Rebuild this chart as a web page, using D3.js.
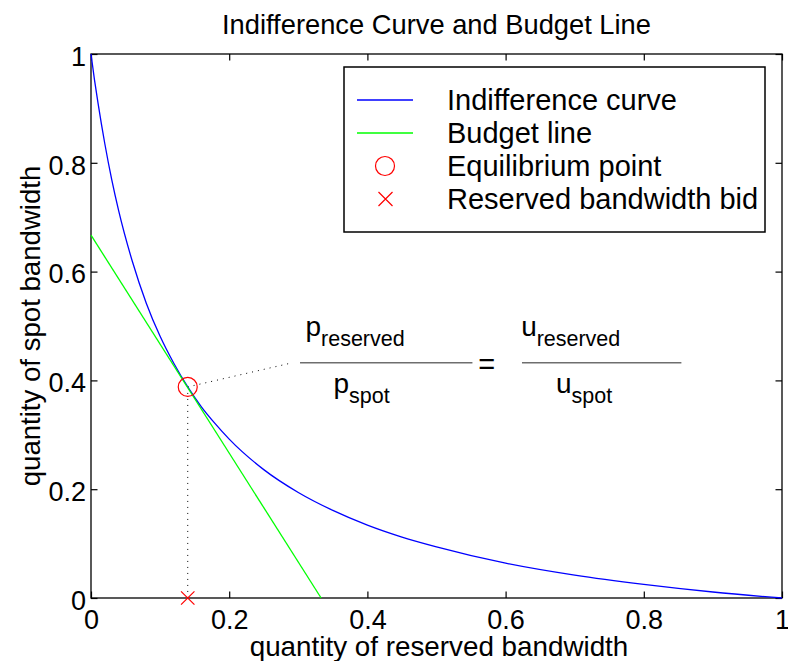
<!DOCTYPE html>
<html>
<head>
<meta charset="utf-8">
<script src="https://cdn.jsdelivr.net/npm/d3@7"></script>
<style>
  html, body { margin: 0; padding: 0; background: #fff; }
  svg { display: block; }
  text { font-family: "Liberation Sans", Arial, Helvetica, sans-serif; fill: #000; }
</style>
</head>
<body>
<svg id="chart" width="788" height="661"></svg>
<script>
// Indifference curve: quantity of reserved bandwidth vs. quantity of spot bandwidth
const reservedQty = [0, 0.005, 0.01, 0.02, 0.03, 0.04, 0.06, 0.08, 0.10, 0.12, 0.14, 0.16, 0.18, 0.20,
                     0.25, 0.30, 0.35, 0.40, 0.45, 0.50, 0.60, 0.70, 0.80, 0.90, 1.00];
const spotQty     = [1.00, 0.953, 0.911, 0.835, 0.769, 0.712, 0.618, 0.542, 0.481, 0.431, 0.388, 0.351, 0.320, 0.292,
                     0.236, 0.194, 0.161, 0.134, 0.112, 0.094, 0.064, 0.042, 0.025, 0.011, 0.000];

// Budget line end points
const budgetX = [0, 0.333];
const budgetY = [0.667, 0];

// Tangency point and the resulting reserved bandwidth bid
const equilibrium = [0.14, 0.388];
const bid = [0.14, 0];

// Axis ticks
const xTicks = [0, 0.2, 0.4, 0.6, 0.8, 1];
const yTicks = [0, 0.2, 0.4, 0.6, 0.8, 1];
const tickLabels = ["0", "0.2", "0.4", "0.6", "0.8", "1"];

const legendLabels = ["Indifference curve", "Budget line", "Equilibrium point", "Reserved bandwidth bid"];

const svg = d3.select("#chart");
const W = 788, H = 661;
const m = { left: 91, right: 782, top: 54, bottom: 598 };

svg.append("rect").attr("width", W).attr("height", H).attr("fill", "#fff");

const x = d3.scaleLinear().domain([0, 1]).range([m.left, m.right]);
const y = d3.scaleLinear().domain([0, 1]).range([m.bottom, m.top]);

const FS = 27;
const tickLen = 6.5;
const fmt = (d) => tickLabels[xTicks.indexOf(d)];

// Axes: inward ticks on every side of the box
const gB = svg.append("g").attr("transform", `translate(0,${m.bottom})`)
  .call(d3.axisBottom(x).tickValues(xTicks).tickSize(-tickLen).tickPadding(11.5).tickFormat(fmt));
const gL = svg.append("g").attr("transform", `translate(${m.left},0)`)
  .call(d3.axisLeft(y).tickValues(yTicks).tickSize(-tickLen).tickPadding(5).tickFormat((d) => tickLabels[yTicks.indexOf(d)]));
const gT = svg.append("g").attr("transform", `translate(0,${m.top})`)
  .call(d3.axisTop(x).tickValues(xTicks).tickSize(-tickLen).tickFormat(""));
const gR = svg.append("g").attr("transform", `translate(${m.right},0)`)
  .call(d3.axisRight(y).tickValues(yTicks).tickSize(-tickLen).tickFormat(""));

[gB, gL, gT, gR].forEach((g) => {
  g.select(".domain").remove();
  g.selectAll(".tick line").attr("stroke", "#000").attr("stroke-width", 1.2);
  g.selectAll("text").attr("font-size", FS).attr("fill", "#000")
    .style("font-family", '"Liberation Sans", Arial, sans-serif');
});
gL.selectAll("text").attr("dy", "0.42em");

// Plot box
svg.append("rect")
  .attr("x", m.left).attr("y", m.top)
  .attr("width", m.right - m.left).attr("height", m.bottom - m.top)
  .attr("fill", "none").attr("stroke", "#000").attr("stroke-width", 1.3);

// Dotted guide lines from the equilibrium point
svg.append("line")
  .attr("x1", x(equilibrium[0])).attr("y1", y(equilibrium[1]))
  .attr("x2", x(bid[0])).attr("y2", y(bid[1]))
  .attr("stroke", "#000").attr("stroke-width", 1).attr("stroke-dasharray", "1,5");
svg.append("line")
  .attr("x1", x(equilibrium[0])).attr("y1", y(equilibrium[1]))
  .attr("x2", x(0.29)).attr("y2", y(0.432))
  .attr("stroke", "#000").attr("stroke-width", 1).attr("stroke-dasharray", "1,5");

// Curves
const indiff = reservedQty.map((d, i) => [d, spotQty[i]]);
const budget = budgetX.map((d, i) => [d, budgetY[i]]);

svg.append("path").datum(indiff)
  .attr("d", d3.line().x((d) => x(d[0])).y((d) => y(d[1])).curve(d3.curveMonotoneX))
  .attr("fill", "none").attr("stroke", "#0000ff").attr("stroke-width", 1.3);
svg.append("path").datum(budget)
  .attr("d", d3.line().x((d) => x(d[0])).y((d) => y(d[1])))
  .attr("fill", "none").attr("stroke", "#00ff00").attr("stroke-width", 1.3);

// Markers
function drawCross(g, cx, cy, s) {
  g.append("path")
    .attr("d", `M${cx - s},${cy - s}L${cx + s},${cy + s}M${cx - s},${cy + s}L${cx + s},${cy - s}`)
    .attr("stroke", "#ff0000").attr("stroke-width", 1.2).attr("fill", "none");
}
svg.append("circle")
  .attr("cx", x(equilibrium[0])).attr("cy", y(equilibrium[1])).attr("r", 9.5)
  .attr("fill", "none").attr("stroke", "#ff0000").attr("stroke-width", 1.2);
drawCross(svg, x(bid[0]), y(bid[1]), 6.7);

// Price ratio = marginal utility ratio annotation
const mainFS = 28, subFS = 21.5;
const ann = svg.append("g");
function subText(px, py, main, sub, dx) {
  ann.append("text").attr("x", x(px)).attr("y", y(py)).attr("font-size", mainFS).text(main);
  ann.append("text").attr("x", x(px) + dx).attr("y", y(py) + 9.5).attr("font-size", subFS).text(sub);
}
subText(0.3105, 0.4816, "p", "reserved", 15.5);
subText(0.351, 0.376, "p", "spot", 15.5);
subText(0.6225, 0.4816, "u", "reserved", 15.5);
subText(0.673, 0.376, "u", "spot", 15.5);
[[0.3025, 0.552], [0.6237, 0.8544]].forEach(([a, b]) => {
  ann.append("line")
    .attr("x1", x(a)).attr("x2", x(b)).attr("y1", y(0.4324)).attr("y2", y(0.4324))
    .attr("stroke", "#6e6e6e").attr("stroke-width", 1.6);
});
ann.append("text").attr("x", x(0.5725)).attr("y", y(0.4324) + 11)
  .attr("text-anchor", "middle").attr("font-size", 29).text("=");

// Title and axis labels
svg.append("text").attr("x", (m.left + m.right) / 2).attr("y", 33.5)
  .attr("text-anchor", "middle").attr("font-size", 27.3).text("Indifference Curve and Budget Line");
svg.append("text").attr("x", 439).attr("y", 656)
  .attr("text-anchor", "middle").attr("font-size", 27.8).text("quantity of reserved bandwidth");
svg.append("text")
  .attr("transform", `translate(40,${(m.top + m.bottom) / 2}) rotate(-90)`)
  .attr("text-anchor", "middle").attr("font-size", 27.6).text("quantity of spot bandwidth");

// Legend
const lg = svg.append("g");
lg.append("rect").attr("x", 344).attr("y", 67).attr("width", 421).attr("height", 165)
  .attr("fill", "#fff").attr("stroke", "#000").attr("stroke-width", 1.5);
const rowY = (i) => 100 + 33 * i;
lg.append("line").attr("x1", 357).attr("x2", 413).attr("y1", rowY(0)).attr("y2", rowY(0))
  .attr("stroke", "#0000ff").attr("stroke-width", 1.3);
lg.append("line").attr("x1", 357).attr("x2", 413).attr("y1", rowY(1)).attr("y2", rowY(1))
  .attr("stroke", "#00ff00").attr("stroke-width", 1.3);
lg.append("circle").attr("cx", 385).attr("cy", rowY(2)).attr("r", 9.5)
  .attr("fill", "none").attr("stroke", "#ff0000").attr("stroke-width", 1.2);
drawCross(lg, 385.5, rowY(3), 7);
legendLabels.forEach((t, i) => {
  lg.append("text").attr("x", 447).attr("y", rowY(i) + 10).attr("font-size", 29).text(t);
});
</script>
</body>
</html>
